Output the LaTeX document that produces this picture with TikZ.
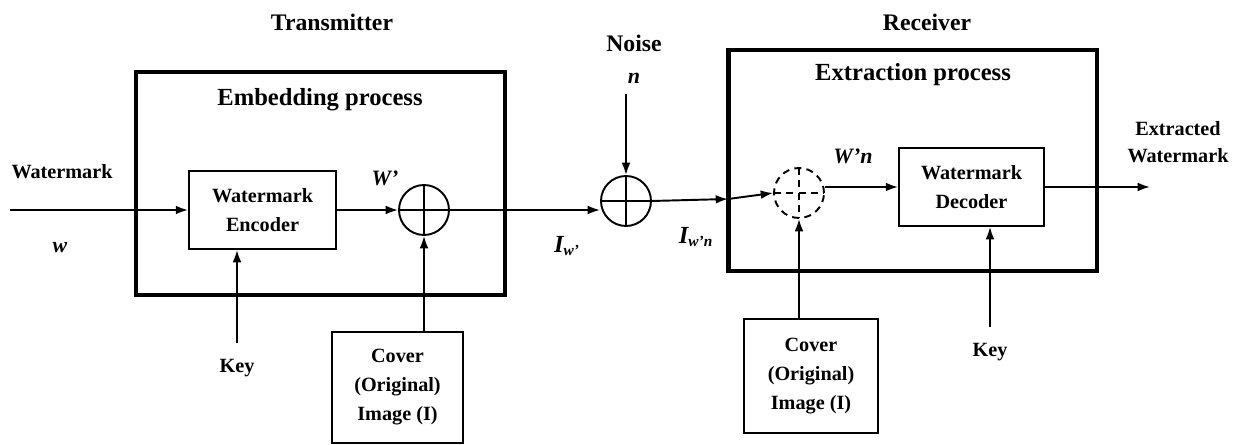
\documentclass[tikz,border=0pt]{standalone}
\usepackage{fontspec}
\setmainfont{Liberation Serif}
\usetikzlibrary{arrows.meta, positioning, calc}

\tikzset{
  % Thick frames around the two processes
  procframe/.style={
    rectangle, draw=black, line width=2.8pt, inner sep=0pt,
  },
  % Plain blocks (encoder, decoder, cover image)
  block/.style={
    rectangle, draw=black, line width=1.1pt, inner sep=0pt, align=center,
    font=\fontsize{11.5}{16.5}\selectfont\bfseries,
  },
  % Summing junctions
  adder/.style={
    circle, draw=black, line width=1.1pt, minimum size=1cm, inner sep=0pt,
    path picture={
      \draw[line width=1.1pt, #1]
        (path picture bounding box.north) -- (path picture bounding box.south)
        (path picture bounding box.west) -- (path picture bounding box.east);
    },
  },
  adder/.default={solid},
  dashedadder/.style={
    adder={dash pattern=on 4pt off 3pt}, dash pattern=on 4pt off 3pt,
  },
  % Texts
  heading/.style={font=\fontsize{13.5}{16}\selectfont\bfseries, align=center},
  procheading/.style={font=\fontsize{14}{16}\selectfont\bfseries, align=center},
  plainlabel/.style={font=\fontsize{11.5}{14}\selectfont\bfseries, align=center},
  symlabel/.style={font=\fontsize{12.5}{15}\selectfont\bfseries\itshape},
  % Arrows
  sigarrow/.style={-{Latex[length=7pt, width=5pt]}, line width=1.1pt},
}

\begin{document}
\begin{tikzpicture}[x=0.02cm, y=-0.02cm]
  \useasboundingbox (0,0) rectangle (1245,445);

  % Frames
  \node[procframe, minimum width=7.38cm, minimum height=4.46cm] (embed) at (320.5,183.5) {};
  \node[procframe, minimum width=7.38cm, minimum height=4.42cm] (extract) at (912.5,160.5) {};

  % Headings
  \node[heading] (txlab) at (332,22) {Transmitter};
  \node[heading] (rxlab) at (927,22) {Receiver};
  \node[procheading] (emblab) at (320,100) {Embedding process};
  \node[procheading] (extlab) at (913,75) {Extraction process};

  % Transmitter side
  \node[block, minimum width=2.94cm, minimum height=1.56cm] (enc) at (262.5,210) {Watermark\\Encoder};
  \node[adder] (add1) at (424,210) {};
  \node[block, minimum width=2.62cm, minimum height=2.22cm] (cover1) at (397.5,387.5) {Cover\\(Original)\\Image (I)};
  \node[plainlabel] (key1) at (237,368) {Key};
  \node[plainlabel] (wmlab) at (62,172) {Watermark};
  \node[symlabel] (wlab) at (60,248) {w};
  \node[symlabel] (wplab) at (385,178) {W’};
  \coordinate (win) at (10,210);

  % Channel
  \node[adder] (add2) at (626,201) {};
  \node[heading] (noiselab) at (634,43) {Noise};
  \node[symlabel] (nlab) at (634,78) {n};
  \node[symlabel] (iwlab) at (567,246) {{\fontsize{14}{15}\selectfont I}\textsubscript{w’}};

  % Receiver side
  \coordinate (rxin) at (728,199);
  \node[dashedadder] (sub) at (799,193) {};
  \node[block, minimum width=2.90cm, minimum height=1.56cm] (dec) at (971.5,187) {Watermark\\Decoder};
  \node[block, minimum width=2.68cm, minimum height=2.28cm] (cover2) at (811,376) {Cover\\(Original)\\Image (I)};
  \node[plainlabel] (key2) at (990,352) {Key};
  \node[symlabel] (iwnlab) at (696,237) {{\fontsize{14}{15}\selectfont I}\textsubscript{w’n}};
  \node[symlabel] (wnlab) at (853,156) {W’n};
  \node[plainlabel, font=\fontsize{11.5}{15.5}\selectfont\bfseries] (outlab) at (1178,142) {Extracted\\Watermark};
  \coordinate (wout) at (1150,187);

  % Arrows
  \draw[sigarrow] (win) -- (enc.west);
  \draw[sigarrow] (enc.east) -- (add1.west);
  \draw[sigarrow] (key1.north) ++(0,-10) -- (key1.north |- enc.south);
  \draw[sigarrow] (cover1.north -| add1) -- (add1.south);
  \draw[sigarrow] (add1.east) -- (add1.east -| add2.west);
  \draw[sigarrow] (nlab.south -| add2) ++(0,5) -- (add2.north);
  \draw[sigarrow] (add2.east) -- (rxin);
  \draw[sigarrow] (rxin) -- (sub.west);
  \draw[sigarrow] (sub.east |- dec.west) -- (dec.west);
  \draw[sigarrow] (cover2.north -| sub) -- (sub.south);
  \draw[sigarrow] (key2.north) ++(0,-10) -- (key2.north |- dec.south);
  \draw[sigarrow] (dec.east) -- (wout);
\end{tikzpicture}
\end{document}
